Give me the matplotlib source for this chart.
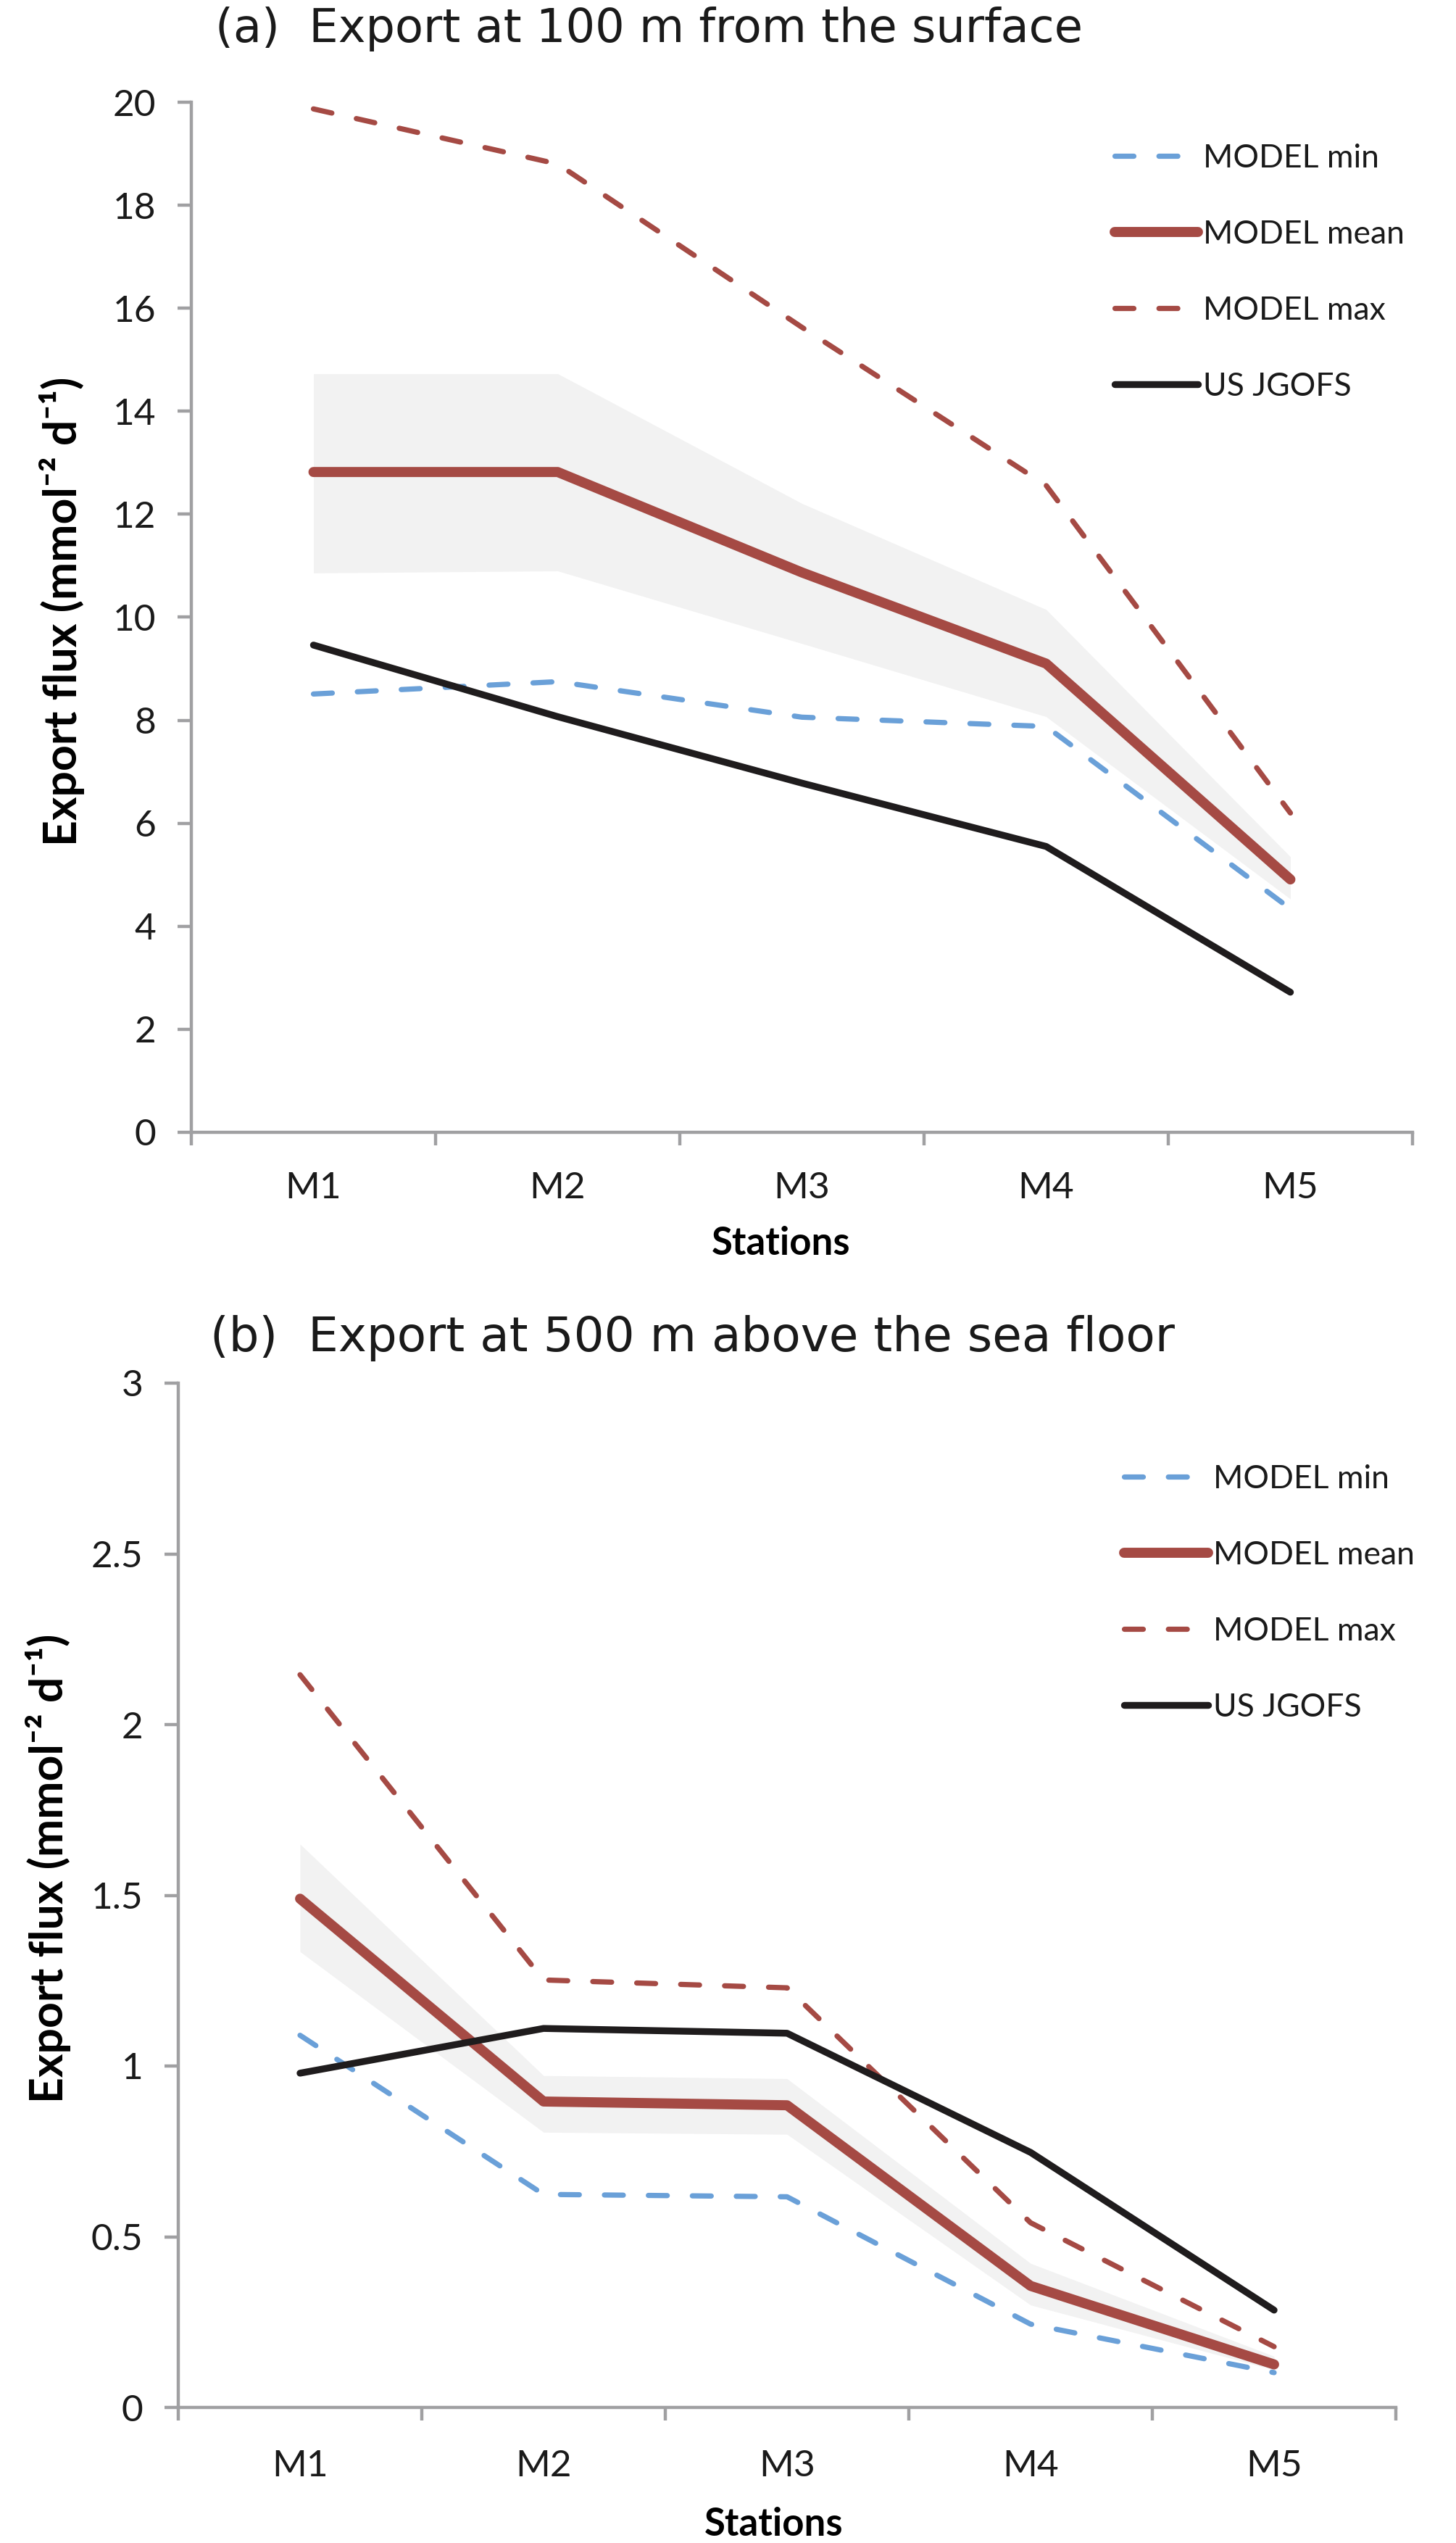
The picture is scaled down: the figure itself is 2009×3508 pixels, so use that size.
import matplotlib
matplotlib.use("Agg")
import matplotlib.pyplot as plt
import numpy as np
from matplotlib.ticker import FuncFormatter, MultipleLocator

# stations M1..M5
stations = ["M1", "M2", "M3", "M4", "M5"]

# (a) export at 100 m from the surface
a_min = [8.51, 8.75, 8.06, 7.88, 4.34]
a_mean = [12.82, 12.82, 10.87, 9.10, 4.91]
a_max = [19.87, 18.80, 15.63, 12.56, 6.20]
a_jgofs = [9.46, 8.07, 6.78, 5.55, 2.72]
a_band_hi = [14.73, 14.73, 12.21, 10.15, 5.35]
a_band_lo = [10.86, 10.90, 9.49, 8.07, 4.53]

# (b) export at 500 m above the sea floor
b_min = [1.09, 0.624, 0.617, 0.244, 0.102]
b_mean = [1.49, 0.896, 0.885, 0.356, 0.126]
b_max = [2.146, 1.252, 1.229, 0.541, 0.178]
b_jgofs = [0.979, 1.110, 1.096, 0.747, 0.285]
b_band_hi = [1.65, 0.972, 0.963, 0.422, 0.15]
b_band_lo = [1.335, 0.806, 0.80, 0.30, 0.11]

KIRMIZI = "#A54A44"
MAVI = "#6AA0D8"
SIYAH = "#1F1C1D"
GRI = "#A0A0A2"
BANT = "#F2F2F2"
YAZI = "#1A1A1A"

plt.rcParams["font.family"] = ["Lato", "DejaVu Sans"]
plt.rcParams["text.color"] = YAZI

W, H = 2009, 3508
fig = plt.figure(figsize=(W / 100, H / 100), dpi=100)


def panel(ax, vmin, vmean, vmax, vjg, lo, hi, ymax, ystep, title, title_xy,
          title_fs, ylab_xy, leg_anchor, xlab_x, xlab_pad, xtick_pad):
    x = np.arange(len(stations)) + 0.5
    ax.fill_between(x, lo, hi, color=BANT, lw=0, zorder=1)
    dash = dict(lw=5.2, dashes=(3.6, 4.8), dash_capstyle="round",
                solid_capstyle="round", clip_on=False)
    ax.plot(x, vmin, color=MAVI, label="MODEL min", zorder=2, **dash)
    ax.plot(x, vmean, color=KIRMIZI, lw=10, label="MODEL mean",
            solid_capstyle="round", solid_joinstyle="round", clip_on=False, zorder=3)
    ax.plot(x, vmax, color=KIRMIZI, label="MODEL max", zorder=4, **dash)
    ax.plot(x, vjg, color=SIYAH, lw=6.8, label="US JGOFS",
            solid_capstyle="round", solid_joinstyle="round", clip_on=False, zorder=5)

    ax.set_xlim(0, len(stations))
    ax.set_ylim(0, ymax)
    ax.set_xticks(np.arange(len(stations) + 1))
    ax.set_xticklabels([])
    ax.set_xticks(x, minor=True)
    ax.set_xticklabels(stations, minor=True)
    ax.yaxis.set_major_locator(MultipleLocator(ystep))
    ax.yaxis.set_major_formatter(FuncFormatter(lambda v, p: f"{v:g}"))

    for s in ("top", "right"):
        ax.spines[s].set_visible(False)
    for s in ("left", "bottom"):
        ax.spines[s].set_color(GRI)
        ax.spines[s].set_linewidth(3.2)
    ax.tick_params(axis="both", which="major", direction="out", color=GRI,
                   width=3.2, labelsize=37, labelcolor=YAZI)
    ax.tick_params(axis="x", which="major", length=13)
    ax.tick_params(axis="y", which="major", length=14, pad=21)
    ax.tick_params(axis="x", which="minor", length=0, pad=xtick_pad,
                   labelsize=37, labelcolor=YAZI)

    ax.set_xlabel("Stations", fontsize=38, fontweight="bold", labelpad=xlab_pad)
    ax.xaxis.label.set_x(xlab_x)
    ax.set_ylabel("Export flux (mmol\u207b\u00b2 d\u207b\u00b9)", fontsize=45,
                  fontweight="bold")
    ax.yaxis.set_label_coords(*ylab_xy)

    fig.text(title_xy[0] / W, 1 - title_xy[1] / H, title, fontsize=title_fs,
             family="DejaVu Sans", va="center", ha="left", color=YAZI)

    ax.legend(loc="upper left", bbox_to_anchor=leg_anchor, frameon=False,
              fontsize=32, handlelength=2.6, handletextpad=0.15,
              labelspacing=1.44, borderpad=0, borderaxespad=0)


ax_a = fig.add_axes([264 / W, 1 - 1562 / H, 1685 / W, 1421 / H])
panel(ax_a, a_min, a_mean, a_max, a_jgofs, a_band_lo, a_band_hi, 20, 2,
      "(a)  Export at 100 m from the surface", (297, 40), 46,
      (-0.087, 0.506), (0.756, 0.96), 0.483, 21, 39)

ax_b = fig.add_axes([246 / W, 1 - 3321 / H, 1680 / W, 1413 / H])
panel(ax_b, b_min, b_mean, b_max, b_jgofs, b_band_lo, b_band_hi, 3, 0.5,
      "(b)  Export at 500 m above the sea floor", (290, 1846), 47.5,
      (-0.088, 0.526), (0.777, 0.921), 0.489, 24, 41.5)

fig.savefig("out.png", dpi=100)
